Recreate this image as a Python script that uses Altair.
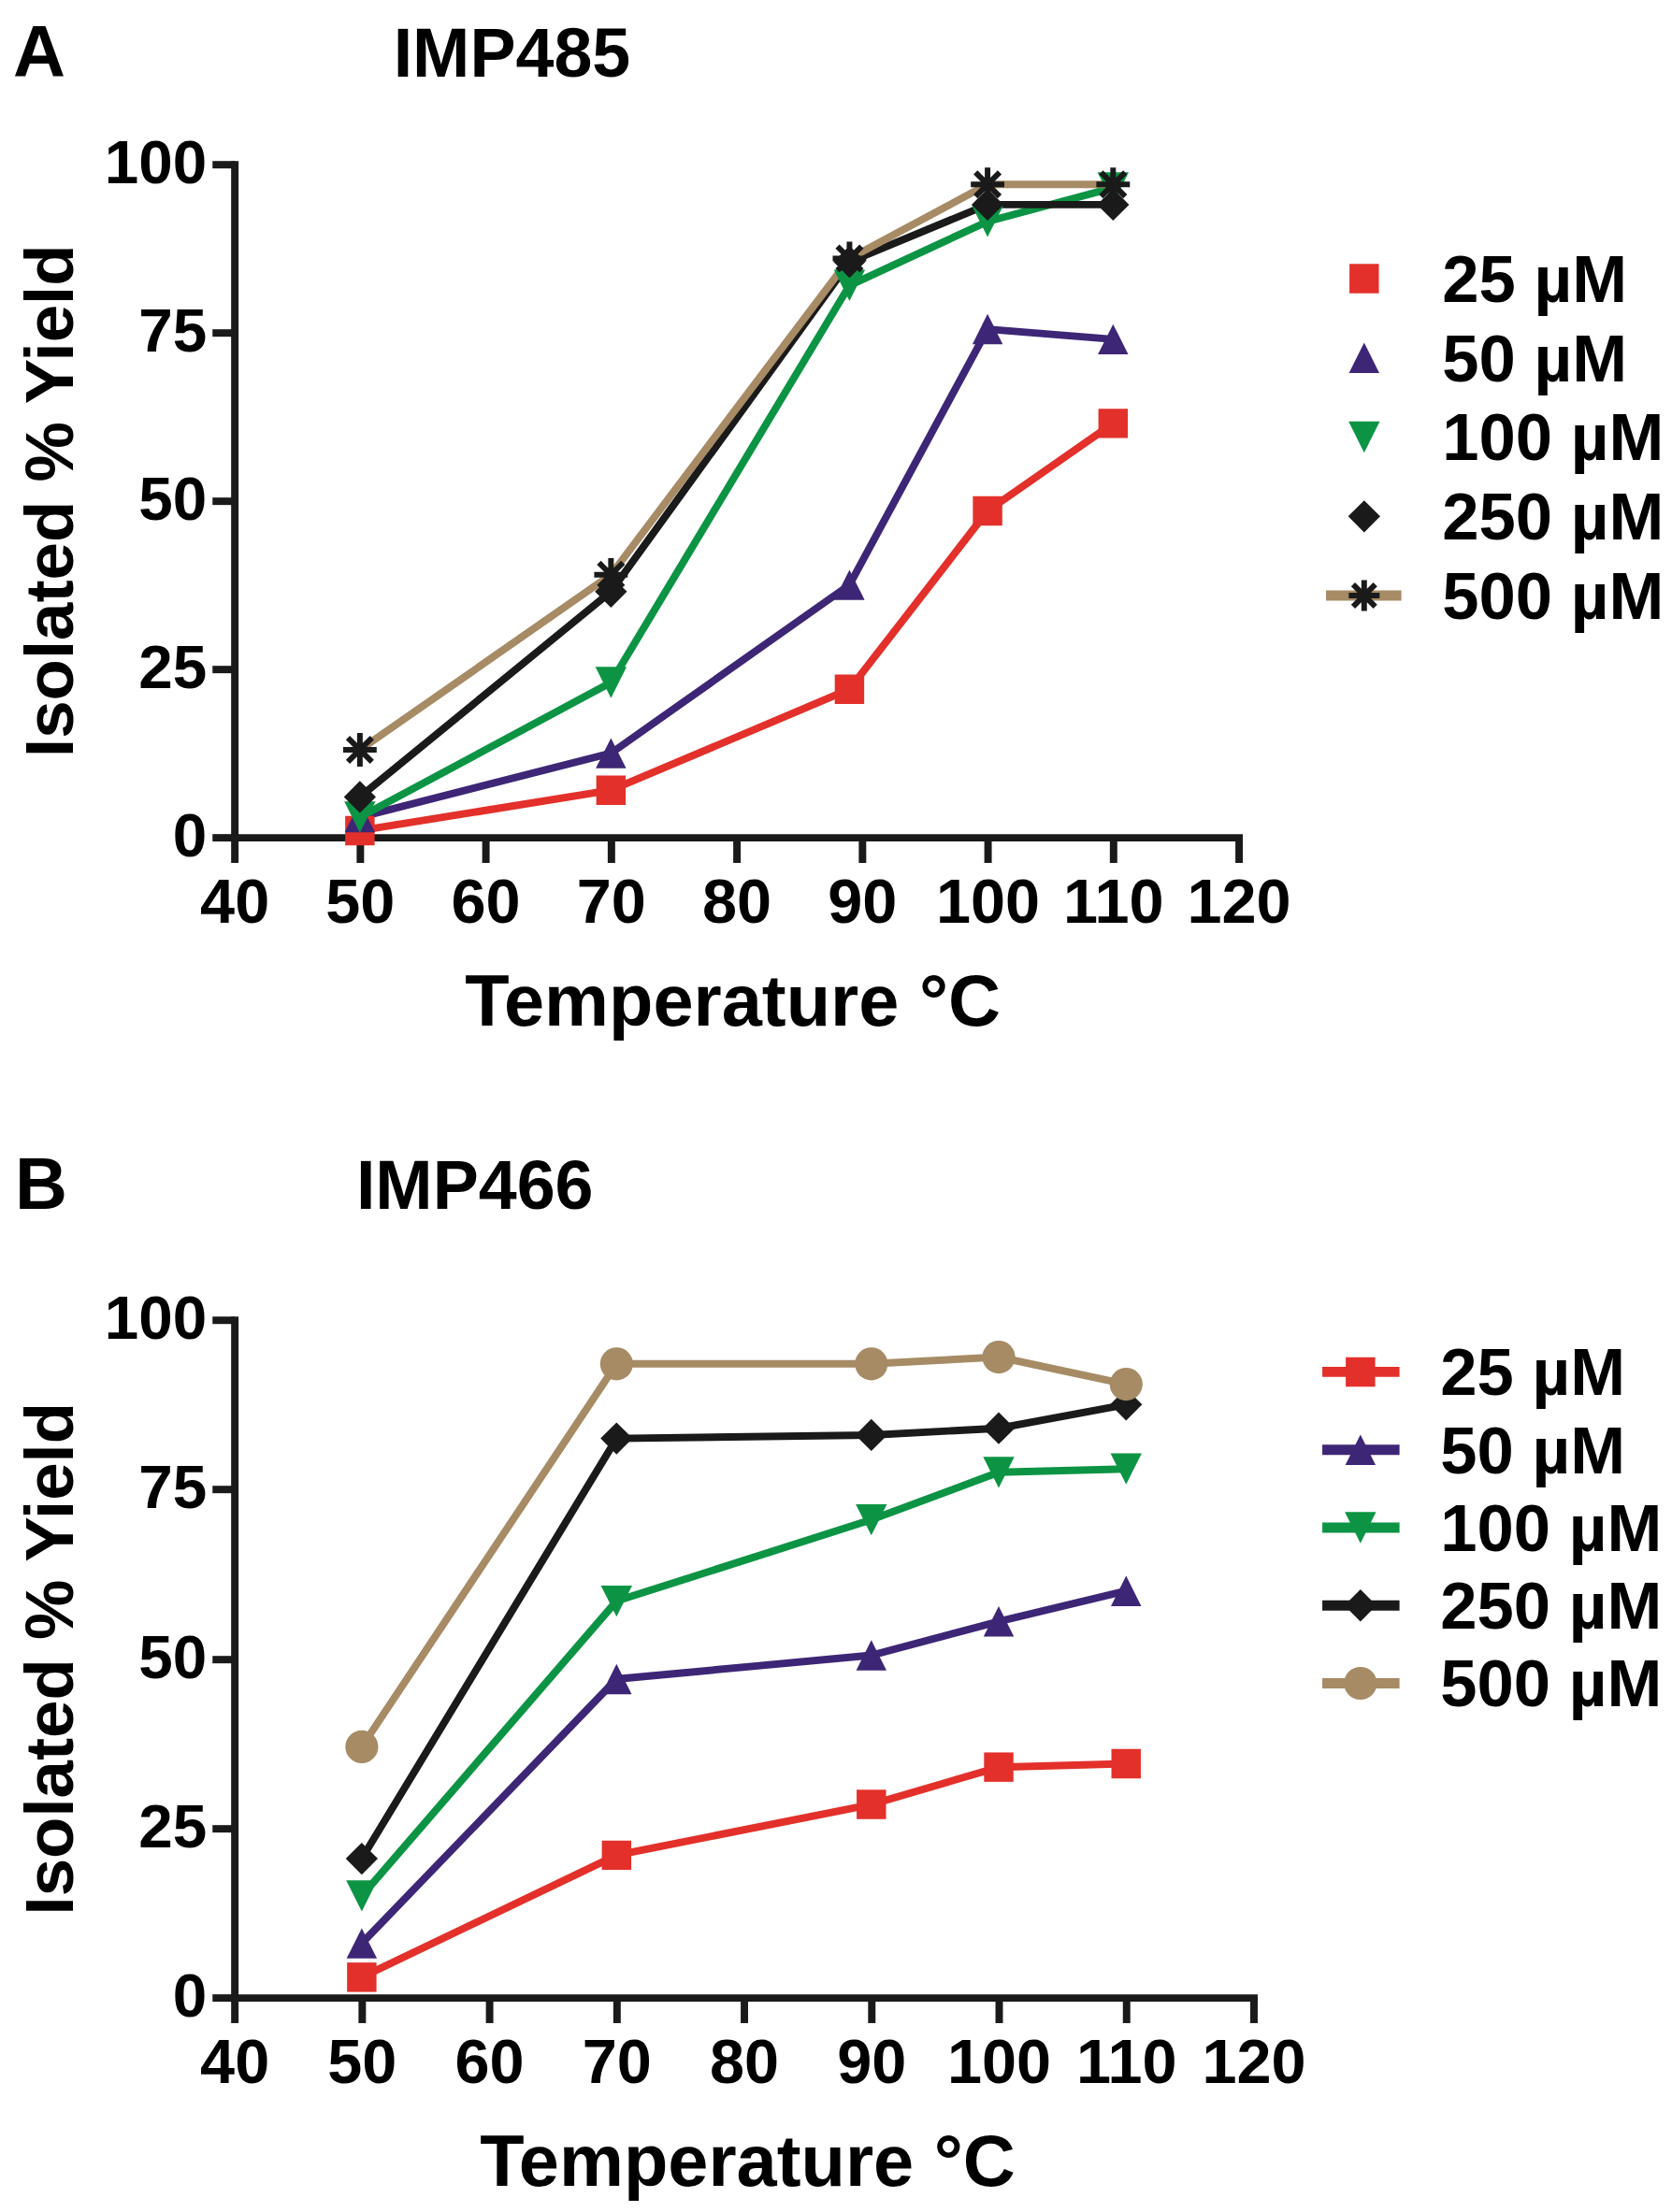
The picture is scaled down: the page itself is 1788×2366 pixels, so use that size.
import altair as alt
import pandas as pd

# ---------------- data ----------------
series = ["25 µM", "50 µM", "100 µM", "250 µM", "500 µM"]
colors = ["#E3302A", "#3D2676", "#0C9444", "#1A1A1A", "#A68B65"]

temps_A = [50, 70, 89, 100, 110]
yA_25 = [1, 7, 22, 48.5, 61.5]
yA_50 = [3, 12.5, 37.5, 75.5, 74]
yA_100 = [3, 23, 82, 91.5, 96.5]
yA_250 = [6, 36.5, 85.5, 94, 94]
yA_500 = [13, 39, 86, 97, 97]

temps_B = [50, 70, 90, 100, 110]
yB_25 = [3, 21, 28.5, 34, 34.5]
yB_50 = [8, 47, 50.5, 55.5, 60]
yB_100 = [15, 58.5, 70.5, 77.5, 78]
yB_250 = [20.5, 82.5, 83, 84, 87.5]
yB_500 = [37, 93.5, 93.5, 94.5, 90.5]

x_ticks = [40, 50, 60, 70, 80, 90, 100, 110, 120]
y_ticks = [0, 25, 50, 75, 100]

# ---------------- styling ----------------
FONT = "Liberation Sans, Arial, Helvetica, sans-serif"
NARROW = "Liberation Sans Narrow, Arial Narrow, Liberation Sans, sans-serif"
TRI_UP = "M0,-1L1,1L-1,1Z"
TRI_DOWN = "M-1,-1L1,-1L0,1Z"
ASTER = "M0,-1L0,1M-1,0L1,0M-0.72,-0.72L0.72,0.72M-0.72,0.72L0.72,-0.72"
shapes = ["square", TRI_UP, TRI_DOWN, "diamond", "circle"]
sizes = [1000, 1250, 1250, 1600, 1100]


def long_df(temps, ys):
    rows = []
    for s, vals in zip(series, ys):
        for t, v in zip(temps, vals):
            rows.append({"series": s, "temp": t, "yield": v})
    return pd.DataFrame(rows)


def axis_common(**kw):
    return alt.Axis(title=None, format="d", grid=False,
                    domainWidth=8, domainColor="#1A1A1A", domainCap="square",
                    tickWidth=8, tickColor="#1A1A1A",
                    labelFont=NARROW, labelFontWeight="bold", labelColor="black",
                    labelFlush=False, labelOverlap=False, labelBound=False, **kw)


def panel(temps, ys, letter, name, w, h, g, star):
    df = long_df(temps, ys)
    leg = pd.DataFrame({"series": series, "row": list(range(len(series)))})

    color = alt.Color("series:N", scale=alt.Scale(domain=series, range=colors), legend=None)
    shape = alt.Shape("series:N", scale=alt.Scale(domain=series, range=shapes), legend=None)
    size = alt.Size("series:O", scale=alt.Scale(domain=series, range=sizes), legend=None)
    xenc = alt.X("temp:Q", scale=alt.Scale(domain=[40, 120], nice=False, zero=False),
                 axis=axis_common(values=x_ticks, tickSize=27, labelPadding=11, labelFontSize=67))
    yax = alt.Y("yield:Q", scale=alt.Scale(domain=[0, 100], nice=False),
                axis=axis_common(values=y_ticks, tickSize=24, labelPadding=6, labelFontSize=66))
    ynoax = alt.Y("yield:Q", scale=alt.Scale(domain=[0, 100], nice=False), axis=None)
    legy = alt.Y("row:Q", scale=alt.Scale(domain=[0, 4], range=g["rows"]), axis=None)

    layers = []
    layers.append(alt.Chart(df).mark_line(strokeWidth=8).encode(
        x=xenc, y=yax, color=color, detail="series:N"))
    pts_df = df[df["series"] != series[4]] if star else df
    layers.append(alt.Chart(pts_df).mark_point(filled=True, opacity=1, strokeWidth=0).encode(
        x=xenc, y=ynoax, color=color, shape=shape, size=size))
    if star:
        layers.append(alt.Chart(df[df["series"] == series[4]]).mark_point(
            shape=ASTER, filled=False, opacity=1, stroke="#1A1A1A", strokeWidth=6, size=1300
        ).encode(x=xenc, y=ynoax))

    # legend
    if star:
        leg_line_df = leg[leg["series"] == series[4]]
        leg_pt_df = leg[leg["series"] != series[4]]
    else:
        leg_line_df = leg
        leg_pt_df = leg
    layers.append(alt.Chart(leg_line_df).mark_rule(strokeWidth=11).encode(
        x=alt.value(g["lx1"]), x2=alt.value(g["lx2"]), y=legy, color=color))
    layers.append(alt.Chart(leg_pt_df).mark_point(filled=True, opacity=1, strokeWidth=0).encode(
        x=alt.value(g["mx"]), y=legy, color=color, shape=shape, size=size))
    if star:
        layers.append(alt.Chart(leg[leg["series"] == series[4]]).mark_point(
            shape=ASTER, filled=False, opacity=1, stroke="#1A1A1A", strokeWidth=6, size=1100
        ).encode(x=alt.value(g["mx"]), y=legy))
    layers.append(alt.Chart(leg).mark_text(
        align="left", baseline="alphabetic", dy=25, font=FONT, fontSize=71,
        fontWeight="bold", color="black").encode(x=alt.value(g["tx"]), y=legy, text="series:N"))

    # panel texts
    def txt(s, x, y, font, fs, **kw):
        return alt.Chart(pd.DataFrame({"t": [s]})).mark_text(
            font=font, fontSize=fs, fontWeight="bold", color="black", **kw
        ).encode(x=alt.value(x), y=alt.value(y), text="t:N")

    layers.append(txt(letter, g["letter_x"], g["top_base"], FONT, 78, align="left", baseline="alphabetic"))
    layers.append(txt(name, g["name_x"], g["top_base"], NARROW, 74, align="left", baseline="alphabetic"))
    layers.append(txt("Isolated % Yield", g["ytitle_x"], h / 2, FONT, 73, align="center",
                      baseline="alphabetic", angle=270))
    layers.append(txt("Temperature °C", g["xtitle_x"], h + 203, FONT, 78, align="center",
                      baseline="alphabetic"))

    return alt.layer(*layers).resolve_scale(y="independent").properties(width=w, height=h)


geomA = dict(rows=[123, 464], lx1=1174, lx2=1255, mx=1215, tx=1299,
             letter_x=-238, name_x=171, top_base=-94, ytitle_x=-174, xtitle_x=536)
geomB = dict(rows=[56, 391], lx1=1170, lx2=1253, mx=1211, tx=1297,
             letter_x=-236, name_x=131, top_base=-119, ytitle_x=-174, xtitle_x=552)

pA = panel(temps_A, [yA_25, yA_50, yA_100, yA_250, yA_500], "A", "IMP485", 1080, 724, geomA, True)
pB = panel(temps_B, [yB_25, yB_50, yB_100, yB_250, yB_500], "B", "IMP466", 1096, 729, geomB, False)

chart = alt.vconcat(pA, pB, spacing=119).properties(
    padding={"left": 6, "top": 6, "right": 0, "bottom": 0},
    background="white",
).configure_view(stroke=None)

chart.save("out.html", embed_options={"renderer": "svg", "actions": False})
